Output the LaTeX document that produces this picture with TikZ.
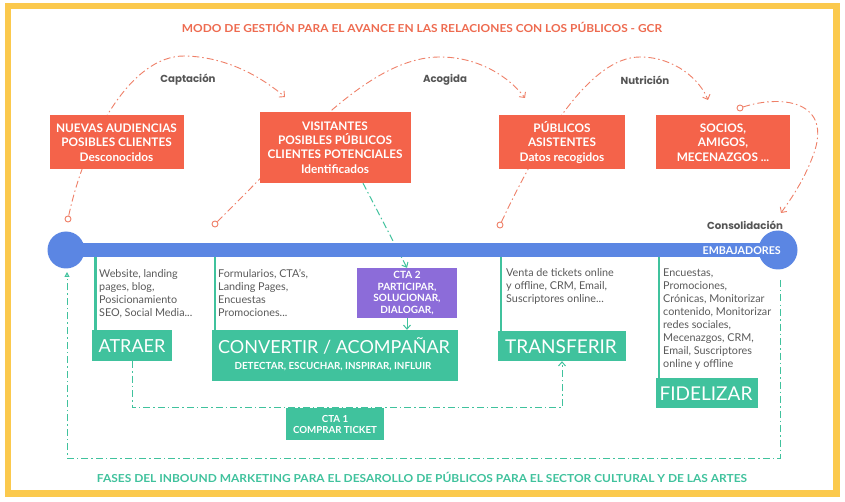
\documentclass[tikz,border=0pt]{standalone}
\usepackage{fontspec}
\usepackage{graphicx}
\setmainfont{Lato}
\newfontfamily\popp{Poppins}
\usetikzlibrary{arrows.meta,calc}
\definecolor{ybord}{HTML}{FBC94D}
\definecolor{redb}{HTML}{F4634A}
\definecolor{coral}{HTML}{EF8068}
\definecolor{titc}{HTML}{EE6B50}
\definecolor{grn}{HTML}{40C29D}
\definecolor{purp}{HTML}{8C6CD9}
\definecolor{bluel}{HTML}{5B86E3}
\definecolor{gtext}{HTML}{5A5A5A}
\definecolor{ltext}{HTML}{555555}
\pgfdeclarelayer{paper}
\pgfdeclarelayer{bg}
\pgfsetlayers{paper,bg,main}
\tikzset{
  redbox/.style={fill=redb, text=white, font=\bfseries\fontsize{11.8}{14.3}\selectfont, align=center, inner sep=0},
  grnbox/.style={fill=grn, text=white, inner sep=0},
  biglab/.style={text=white, inner sep=0, font=\fontsize{18}{20}\selectfont},
  smalllab/.style={text=white, inner sep=0, align=center, font=\bfseries\fontsize{9.8}{11.5}\selectfont},
  descr/.style={anchor=north west, inner sep=0, align=left, text=gtext, font=\fontsize{10.8}{13}\selectfont},
  coralarc/.style={draw=coral, line width=0.9pt, dash pattern=on 7pt off 3pt on 1.5pt off 3pt, -{Straight Barb[length=4pt,width=8pt]}},
  pdot/.style={circle, draw=coral, fill=white, line width=0.9pt, minimum size=6pt, inner sep=0},
  gdash/.style={draw=grn, line width=1pt, dash pattern=on 7pt off 3pt on 1.5pt off 3pt},
  gbarb/.style={-{Straight Barb[length=4pt,width=7pt]}},
  bracket/.style={draw=grn, line width=2.5pt},
  phase/.style={text=ltext, font=\popp\bfseries\fontsize{10.2}{11}\selectfont},
  tlcirc/.style={circle, fill=bluel, inner sep=0},
}
\begin{document}
\begin{tikzpicture}[x=1pt,y=-1pt]
\useasboundingbox (0,0) rectangle (845,502);
\begin{pgfonlayer}{paper}
\fill[white] (0,0) rectangle (845,502);
\end{pgfonlayer}
\draw[ybord, line width=6.5pt] (8,6) rectangle (836.5,493.5);

% title
\node[text=titc, font=\bfseries\fontsize{11}{12}\selectfont] (title) at (422,27)
  {\resizebox{480pt}{\height}{MODO DE GESTIÓN PARA EL AVANCE EN LAS RELACIONES CON LOS PÚBLICOS - GCR}};

% red boxes
\node[redbox, minimum width=134pt, minimum height=54pt] (n1) at (116.5,142.5)
  {NUEVAS AUDIENCIAS\\POSIBLES CLIENTES\\Desconocidos};
\node[redbox, minimum width=151pt, minimum height=71pt] (n2) at (335,147.5)
  {VISITANTES\\POSIBLES PÚBLICOS\\CLIENTES POTENCIALES\\Identificados};
\node[redbox, minimum width=126pt, minimum height=54pt] (n3) at (562,142.5)
  {PÚBLICOS\\ASISTENTES\\Datos recogidos};
\node[redbox, minimum width=134pt, minimum height=54pt] (n4) at (723,142.5)
  {SOCIOS,\\AMIGOS,\\MECENAZGOS ...};

% phase labels
\node[phase] (l1) at (188,80) {Captación};
\node[phase] (l2) at (445,80) {Acogida};
\node[phase] (l3) at (645,80) {Nutrición};
\node[phase] (l4) at (745,225) {Consolidación};

% small circles and arc ends
\node[pdot] (d1) at (68,219) {};
\node[pdot] (d2) at (215,224) {};
\node[pdot] (d3) at (500,225) {};
\node[pdot] (d4) at (740,108) {};
\coordinate (a1) at (285,97);
\coordinate (a2) at (525,98);
\coordinate (a3) at (708,100);
\coordinate (a4) at (781,213);

% timeline
\node[tlcirc, minimum size=37pt] (tl) at (66,250) {};
\node[tlcirc, minimum size=39pt] (tr) at (778,250) {};
\draw[bluel, line width=14pt] (tl.center) -- (tr.center);
\node[anchor=east, text=white, inner sep=0, font=\bfseries\fontsize{10.7}{11}\selectfont] (emb) at (781,251) {EMBAJADORES};

% green boxes
\node[grnbox, minimum width=80pt, minimum height=31pt] (atraer) at (132,345.5) {};
\node[biglab] (atraerl) at (132,346) {ATRAER};
\node[grnbox, minimum width=246pt, minimum height=51pt] (conv) at (335,355.5) {};
\node[biglab] (convl) at (334,346) {CONVERTIR / ACOMPAÑAR};
\node[smalllab] (convs) at (333,367) {DETECTAR, ESCUCHAR, INSPIRAR, INFLUIR};
\node[grnbox, minimum width=128pt, minimum height=30pt] (transf) at (562,346) {};
\node[biglab, font=\fontsize{19}{20}\selectfont] (transfl) at (561,346.5) {TRANSFERIR};
\node[grnbox, minimum width=102pt, minimum height=30pt] (fidel) at (707,393) {};
\node[biglab, font=\fontsize{19}{20}\selectfont] (fidell) at (706,393.5) {FIDELIZAR};

\node[fill=purp, inner sep=0, minimum width=100pt, minimum height=50pt, text=white, align=center,
  font=\bfseries\fontsize{10}{11.7}\selectfont] (cta2) at (407,293)
  {CTA 2\\PARTICIPAR,\\SOLUCIONAR,\\DIALOGAR,};
\node[grnbox, minimum width=98pt, minimum height=32pt, align=center,
  font=\bfseries\fontsize{9.7}{11}\selectfont] (cta1) at (335,424)
  {CTA 1\\COMPRAR TICKET};

% descriptions
\node[descr] (t1) at (99,269) {Website, landing\\pages, blog,\\Posicionamiento\\SEO, Social Media...};
\node[descr] (t2) at (218,269) {Formularios, CTA's,\\Landing Pages,\\Encuestas\\Promociones...};
\node[descr] (t3) at (506,268) {Venta de tickets online\\y offline, CRM, Email,\\Suscriptores online...};
\node[descr] (t4) at (663,269) {Encuestas,\\Promociones,\\Crónicas, Monitorizar\\contenido, Monitorizar\\redes sociales,\\Mecenazgos, CRM,\\Email, Suscriptores\\online y offline};

% footer
\node[text=grn, font=\bfseries\fontsize{11}{12}\selectfont] (foot) at (422,477)
  {\resizebox{650pt}{\height}{FASES DEL INBOUND MARKETING PARA EL DESAROLLO DE PÚBLICOS PARA EL SECTOR CULTURAL Y DE LAS ARTES}};

\begin{pgfonlayer}{bg}
  % coral arcs
  \draw[coralarc] (d1) .. controls (85,140) and (130,55) .. (185,56) .. controls (230,57) and (265,80) .. (a1);
  \draw[coralarc] (d2) .. controls (300,140) and (370,57) .. (440,57) .. controls (480,57) and (510,78) .. (a2);
  \draw[coralarc] (d3) .. controls (540,140) and (590,57) .. (640,57) .. controls (675,57) and (700,80) .. (a3);
  \draw[coralarc] (d4) .. controls (780,95) and (830,100) .. (815,150) .. controls (805,180) and (790,200) .. (a4);
  % brackets
  \coordinate (b1) at ($(atraer.north west)+(3.5,0)$);
  \coordinate (b2) at ($(conv.north west)+(3,0)$);
  \coordinate (b3) at ($(transf.north west)+(3,0)$);
  \coordinate (b4) at ($(fidel.north west)+(3,0)$);
  \draw[bracket] (b1) -- (b1 |- tl.center);
  \draw[bracket] (b2) -- (b2 |- tl.center);
  \draw[bracket] (b3) -- (b3 |- tl.center);
  \draw[bracket] (b4) -- (b4 |- tl.center);
  % green dashed connectors
  \draw[gdash, gbarb] ([xshift=28pt]n2.south) -- (cta2.north);
  \draw[gdash, gbarb] (atraer.south) |- (cta1.north) -| (transf.south);
  \coordinate (o1) at (780,280);
  \coordinate (o2) at (67,272);
  \coordinate (ob) at (0,458);
  \draw[gdash, -{Triangle[open, length=5pt, width=5pt]}] (o1) -- (o1 |- ob) -- (o2 |- ob) -- (o2);
\end{pgfonlayer}
\draw[draw=grn, line width=1pt, gbarb] (cta2.south) -- (cta2.south |- conv.north);
\end{tikzpicture}
\end{document}
